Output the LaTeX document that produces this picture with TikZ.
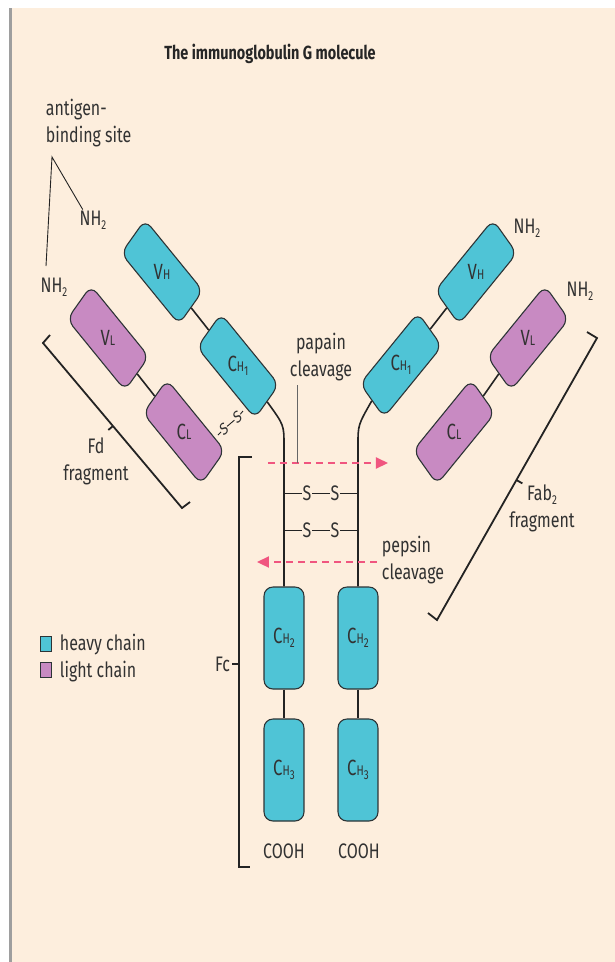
\documentclass[tikz,border=0pt]{standalone}
\usepackage{fontspec}
\setmainfont{Fira Sans}
\usetikzlibrary{arrows.meta}
\definecolor{bgpeach}{RGB}{253,238,221}
\definecolor{bordergray}{RGB}{158,158,158}
\definecolor{heavyc}{RGB}{79,196,214}
\definecolor{lightc}{RGB}{200,138,194}
\definecolor{boxline}{RGB}{45,52,54}
\definecolor{linec}{RGB}{35,35,35}
\definecolor{textgray}{RGB}{50,50,50}
\definecolor{pinkc}{RGB}{240,85,127}
\newcommand\smallsub[1]{{\fontsize{14}{14}\selectfont #1}}
\newcommand\lowsub[1]{\raisebox{-4pt}{\fontsize{13}{13}\selectfont #1}}
\tikzset{
  txt/.style={font=\fontsize{21}{27}\selectfont, text=textgray, inner sep=1pt},
  btxt/.style={font=\fontsize{22}{27}\selectfont, text=textgray, inner sep=1pt},
  stxt/.style={font=\fontsize{17}{17}\selectfont, text=textgray, inner sep=0pt},
  ttl/.style={font=\fontsize{19}{23}\selectfont\bfseries, text=black!85, inner sep=1pt},
  dombox/.style={draw=boxline, line width=1.1pt, rounded corners=9pt, minimum width=104pt, minimum height=46pt, inner sep=0pt},
  hbox/.style={dombox, fill=heavyc},
  lbox/.style={dombox, fill=lightc},
  vbox/.style={dombox, fill=heavyc, minimum width=52.6pt, minimum height=102pt},
  chain/.style={draw=linec, line width=1.6pt},
  thinline/.style={draw=linec, line width=0.9pt},
  bracket/.style={draw=linec, line width=1.8pt},
  cleave/.style={draw=pinkc, line width=2.2pt, dash pattern=on 7pt off 5pt, -{Triangle[length=12pt,width=11pt]}},
  legsq/.style={draw=boxline, line width=0.9pt, minimum width=14.5pt, minimum height=15pt, inner sep=0pt},
}
\begin{document}
\begin{tikzpicture}[x=1pt,y=1pt]
\path[use as bounding box] (0,0) rectangle (615,-962);
\fill[white] (0,0) rectangle (615,-962);
\fill[bgpeach] (12,-8) rectangle (615,-962);
\draw[bordergray, line width=2.6pt] (10.6,-8) -- (10.6,-962);
\begin{scope}[xscale=0.76, x=1.315789pt, y=1pt, transform shape]
% title
\node[ttl] (title) at (270,-54) {The immunoglobulin G molecule};
\coordinate (lbend) at (284,-445);
\coordinate (rbend) at (358,-445);
% arm boxes
\node[hbox, rotate=-43] (lvh) at (162,-272) {};
\node[hbox, rotate=-43] (lch1) at (238,-366) {};
\node[lbox, rotate=-43] (lvl) at (108,-338) {};
\node[lbox, rotate=-43] (lcl) at (184,-432) {};
\node[hbox, rotate=43] (rvh) at (476,-272) {};
\node[hbox, rotate=43] (rch1) at (401,-365) {};
\node[lbox, rotate=43] (rvl) at (528,-338) {};
\node[lbox, rotate=43] (rcl) at (454,-432) {};
% vertical boxes
\node[vbox] (lch2) at (284,-638) {};
\node[vbox] (lch3) at (284,-770) {};
\node[vbox] (rch2) at (358,-638) {};
\node[vbox] (rch3) at (358,-770) {};
% connectors
\draw[chain] (lvh.east) -- (lch1.west);
\draw[chain] (lvl.east) -- (lcl.west);
\draw[chain] (rch1.east) -- (rvh.west);
\draw[chain] (rcl.east) -- (rvl.west);
\draw[chain] (lch1.east) .. controls (284,-425) .. (lbend) -- (lch2.north);
\draw[chain] (rch1.west) .. controls (358,-425) .. (rbend) -- (rch2.north);
\draw[chain] (lch2.south) -- (lch3.north);
\draw[chain] (rch2.south) -- (rch3.north);
% box labels
\node[btxt] (lvht) at (lvh) {V\smallsub{H}};
\node[btxt] (lch1t) at (lch1) {C\smallsub{H}\lowsub{1}};
\node[btxt] (lvlt) at (lvl) {V\smallsub{L}};
\node[btxt] (lclt) at (lcl) {C\smallsub{L}};
\node[btxt] (rvht) at (rvh) {V\smallsub{H}};
\node[btxt] (rch1t) at (rch1) {C\smallsub{H}\lowsub{1}};
\node[btxt] (rvlt) at (rvl) {V\smallsub{L}};
\node[btxt] (rclt) at (rcl) {C\smallsub{L}};
\node[btxt] (lch2t) at (lch2) {C\smallsub{H}\lowsub{2}};
\node[btxt] (lch3t) at (lch3) {C\smallsub{H}\lowsub{3}};
\node[btxt] (rch2t) at (rch2) {C\smallsub{H}\lowsub{2}};
\node[btxt] (rch3t) at (rch3) {C\smallsub{H}\lowsub{3}};
% S-S between light and heavy chain
\coordinate (ssl0) at (218,-435);
\coordinate (ssh0) at (243,-411);
\node[stxt, rotate=33] (ssa) at (224,-429) {S};
\node[stxt, rotate=33] (ssb) at (237.5,-417.5) {S};
\draw[thinline] (ssl0) -- (ssa) -- (ssb) -- (ssh0);
% disulfide bonds in hinge
\coordinate (b1l) at (284,-493);
\coordinate (b1r) at (358,-493);
\coordinate (b2l) at (284,-530);
\coordinate (b2r) at (358,-530);
\node[txt] (s1a) at (307,-493) {S};
\node[txt] (s1b) at (335,-493) {S};
\node[txt] (s2a) at (307,-530) {S};
\node[txt] (s2b) at (335,-530) {S};
\draw[thinline] (b1l) -- (s1a) -- (s1b) -- (b1r);
\draw[thinline] (b2l) -- (s2a) -- (s2b) -- (b2r);
% cleavage arrows
\coordinate (papS) at (268,-463);
\coordinate (papE) at (388,-463);
\coordinate (pepS) at (377,-562);
\coordinate (pepE) at (257,-562);
\draw[cleave] (papS) -- (papE);
\draw[cleave] (pepS) -- (pepE);
\node[txt, align=center] (papain) at (321,-357) {papain\\cleavage};
\coordinate (papL) at (297,-463);
\draw[draw=black!60, line width=0.8pt] (papain.south -| papL) ++(0,-3) -- (papL);
\node[txt, align=left, anchor=west] (pepsin) at (381,-560) {pepsin\\cleavage};
% NH2 labels
\node[txt] (nhlh) at (93,-220) {NH\lowsub{2}};
\node[txt] (nhll) at (54,-287) {NH\lowsub{2}};
\node[txt] (nhrh) at (527,-228) {NH\lowsub{2}};
\node[txt] (nhrl) at (580,-291) {NH\lowsub{2}};
% antigen-binding site
\node[txt, align=left, anchor=west] (ab) at (45,-123) {antigen-\\binding site};
\coordinate (abv) at (52,-157);
\draw[thinline] (nhlh.north west) ++(4,0) -- (abv) -- (46,-266);
% Fd bracket
\draw[bracket] (50,-335) -- (43,-343) -- (182,-508) -- (190,-502);
\draw[bracket] (113,-426) -- (108.3,-430);
\node[txt, align=center] (fd) at (96,-461) {Fd\\fragment};
% Fab2 bracket
\draw[bracket] (587,-332) -- (597,-338) -- (437,-620) -- (428,-613);
\draw[bracket] (516.4,-480) -- (522.4,-483.4);
\node[txt, align=center] (fab) at (542,-508) {Fab\lowsub{2}\\fragment};
% Fc bracket
\draw[bracket] (252,-457) -- (239,-457) -- (239,-867) -- (250,-867);
\draw[bracket] (239,-664) -- (232,-664);
\node[txt, anchor=east] (fc) at (231,-664) {Fc};
% COOH
\node[txt] (cooh1) at (284,-851) {COOH};
\node[txt] (cooh2) at (359,-851) {COOH};
% legend
\node[legsq, fill=heavyc] (lgh) at (45.5,-644) {};
\node[legsq, fill=lightc] (lgl) at (45.5,-670) {};
\node[txt, anchor=west] (lght) at (59,-645) {heavy chain};
\node[txt, anchor=west] (lglt) at (59,-672) {light chain};
\end{scope}
\end{tikzpicture}
\end{document}
